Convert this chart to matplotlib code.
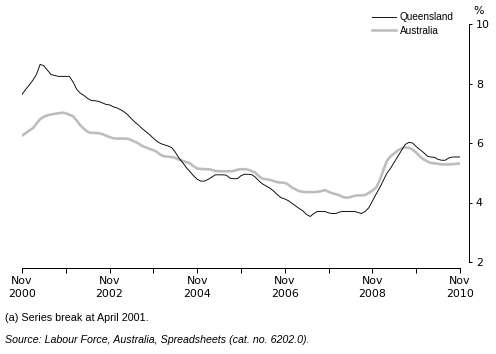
import pandas as pd
import matplotlib
matplotlib.use("Agg")
import matplotlib.pyplot as plt

plt.rcParams['font.family'] = ['Liberation Sans', 'DejaVu Sans']

months = pd.date_range('2000-11-01', '2010-11-01', freq='MS')

queensland = [
    7.63, 7.8, 7.95, 8.12, 8.3, 8.64, 8.6, 8.45, 8.3, 8.27, 8.24, 8.24, 8.24, 8.24,
    8.05, 7.8, 7.68, 7.6, 7.5, 7.43, 7.42, 7.4, 7.35, 7.3, 7.28, 7.22, 7.18, 7.12,
    7.05, 6.95, 6.82, 6.7, 6.6, 6.48, 6.38, 6.28, 6.16, 6.06, 5.98, 5.94, 5.9, 5.85,
    5.7, 5.5, 5.35, 5.18, 5.04, 4.9, 4.78, 4.72, 4.72, 4.78, 4.85, 4.93, 4.93, 4.93,
    4.92, 4.82, 4.8, 4.8, 4.9, 4.95, 4.95, 4.93, 4.85, 4.72, 4.62, 4.55, 4.48, 4.38,
    4.26, 4.16, 4.12, 4.06, 3.97, 3.88, 3.8, 3.72, 3.6, 3.53, 3.63, 3.7, 3.7, 3.7,
    3.65, 3.63, 3.63, 3.68, 3.7, 3.7, 3.7, 3.7, 3.67, 3.63, 3.7, 3.82, 4.05, 4.28,
    4.5, 4.75, 4.98, 5.15, 5.35, 5.55, 5.75, 5.95, 6.02, 6.0, 5.88, 5.78, 5.68, 5.56,
    5.53, 5.52, 5.45, 5.42, 5.42, 5.5, 5.53, 5.53, 5.53,
]

australia = [
    6.25, 6.33, 6.42, 6.5, 6.65, 6.8, 6.88, 6.93, 6.96, 6.98, 7.0, 7.02, 7.0, 6.95,
    6.9, 6.75, 6.6, 6.48, 6.38, 6.34, 6.34, 6.33, 6.3, 6.25, 6.2, 6.16, 6.15, 6.15,
    6.15, 6.14, 6.1, 6.04, 5.98, 5.9, 5.85, 5.8, 5.76, 5.7, 5.6, 5.55, 5.54, 5.53,
    5.5, 5.44, 5.4, 5.36, 5.32, 5.22, 5.14, 5.13, 5.12, 5.12, 5.1, 5.06, 5.05, 5.05,
    5.05, 5.05, 5.06, 5.1, 5.12, 5.12, 5.1, 5.05, 5.0, 4.88, 4.8, 4.78, 4.76, 4.72,
    4.68, 4.67, 4.66, 4.6, 4.5, 4.44, 4.38, 4.36, 4.35, 4.35, 4.35, 4.36, 4.38, 4.42,
    4.36, 4.31, 4.28, 4.24, 4.18, 4.16, 4.18, 4.22, 4.24, 4.24, 4.25, 4.32, 4.4, 4.5,
    4.75, 5.1, 5.4, 5.55, 5.65, 5.75, 5.82, 5.85, 5.84, 5.78, 5.68, 5.55, 5.45, 5.38,
    5.33, 5.32, 5.3, 5.28, 5.28, 5.28, 5.29, 5.3, 5.31,
]

yticks = [2, 4, 6, 8, 10]
xlabel_years = [2000, 2002, 2004, 2006, 2008, 2010]

W, H = 496, 354
fig = plt.figure(figsize=(W / 72, H / 72), dpi=72)
ax = fig.add_axes([22 / W, 1 - 262 / H, 438 / W, 238 / H])

ax.plot(months, australia, color='#bdbdbd', lw=2.6, label='Australia', zorder=2)
ax.plot(months, queensland, color='black', lw=0.9, label='Queensland', zorder=3)

ax.set_xlim(months[0], months[-1])
ax.set_ylim(2, 10)

ax.spines['top'].set_visible(False)
ax.spines['left'].set_visible(False)
ax.spines['right'].set_position(('outward', 9))
ax.spines['bottom'].set_position(('outward', 6))
for s in ['right', 'bottom']:
    ax.spines[s].set_linewidth(1)

tick_font = ['DejaVu Sans']

ax.yaxis.tick_right()
ax.set_yticks(yticks)
ax.set_yticklabels([str(v) for v in yticks], family=tick_font)
ax.tick_params(axis='y', direction='out', length=3, width=1, pad=4, labelsize=11)

ax.set_xticks(pd.date_range('2000-11-01', '2010-11-01', freq='12MS'))
ax.set_xticklabels(['Nov\n' + str(y) if y in xlabel_years else ''
                    for y in range(2000, 2011)], family=tick_font)
ax.tick_params(axis='x', direction='out', length=5, width=1, pad=3, labelsize=11)
for lbl in ax.get_xticklabels():
    lbl.set_linespacing(1.4)

fig.text(473 / W, 1 - 11 / H, '%', fontsize=11, ha='left', va='center',
         family=tick_font)

handles, labels = ax.get_legend_handles_labels()
ax.legend(handles[::-1], labels[::-1], loc='upper left',
          bbox_to_anchor=(372 / W, 1 - 12 / H), bbox_transform=fig.transFigure,
          frameon=False, fontsize=10, handlelength=2.4, handletextpad=0.4,
          borderpad=0, borderaxespad=0, labelspacing=0.35)

fig.text(5 / W, 1 - 318 / H, '(a) Series break at April 2001.', fontsize=10.8,
         ha='left', va='center')
fig.text(5 / W, 1 - 340 / H,
         'Source: Labour Force, Australia, Spreadsheets (cat. no. 6202.0).',
         fontsize=10.6, ha='left', va='center', style='italic')

fig.savefig('out.png', dpi=72)
